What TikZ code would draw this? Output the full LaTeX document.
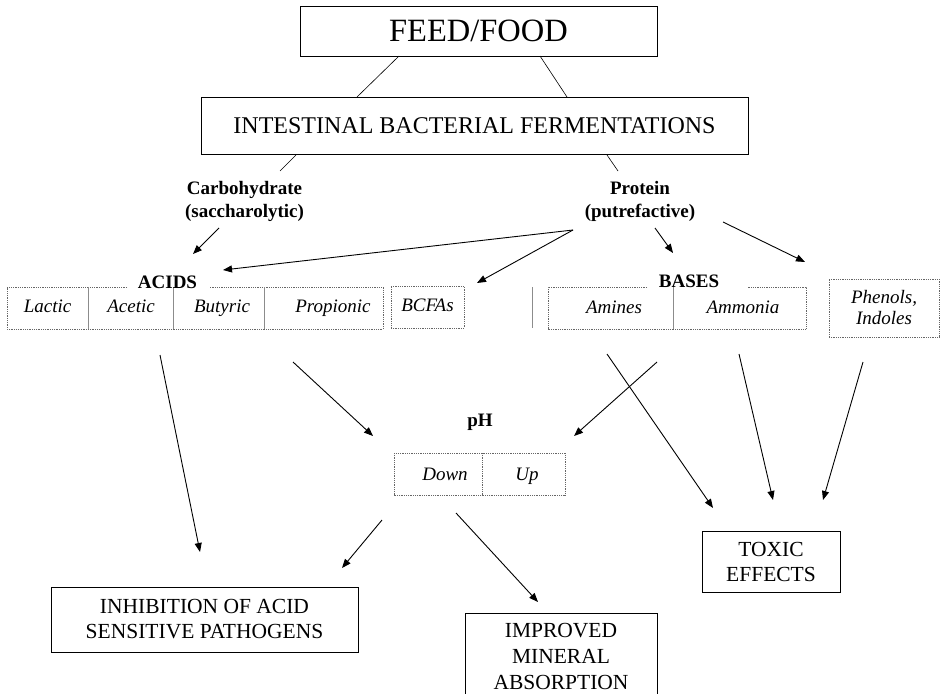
\documentclass[tikz,border=0pt]{standalone}
\usepackage{fontspec}
\setmainfont{Liberation Serif}
\usepackage{tikz}
\usetikzlibrary{arrows.meta}
\usetikzlibrary{positioning}
\tikzset{frame/.style = {draw, line width = 0.9pt, inner sep = 0}}
\tikzset{dotframe/.style = {draw = black!60, line width = 0.8pt, densely dotted}}
\tikzset{divider/.style = {draw = black!45, line width = 0.8pt}}
\tikzset{conn/.style = {line width = 0.9pt, -{Triangle[length = 9pt, width = 7pt]}}}
\tikzset{titlefont/.style = {font = \fontsize{32.5}{36}\selectfont}}
\tikzset{headfont/.style = {font = \fontsize{24}{28}\selectfont}}
\tikzset{boxfont/.style = {font = \fontsize{21.5}{25}\selectfont, align = center}}
\tikzset{labelfont/.style = {font = \fontsize{19}{23}\bfseries\selectfont, align = center}}
\tikzset{cellpara/.style = {font = \fontsize{19}{21}\itshape\selectfont, align = center}}
\tikzset{cellfont/.style = {cellpara, text height = 13, text depth = 4}}
\definecolor{paper}{rgb}{1, 1, 1}

\begin{document}
\begin{tikzpicture}[x = 1pt, y = -1pt]
      \useasboundingbox [fill = paper] (0, 0) rectangle (941, 693);

      % top of the tree
      \node [frame, titlefont, minimum width = 357, minimum height = 50] (feed) at (478.5, 31) {FEED/FOOD};
      \node [frame, headfont, minimum width = 547, minimum height = 57] (ferm) at (474.5, 125.5) {INTESTINAL BACTERIAL FERMENTATIONS};
      \draw [line width = 0.6pt] (399, 56) -- (357, 97);
      \draw [line width = 0.6pt] (540, 56) -- (567, 97);
      \draw [line width = 0.6pt] (296, 155) -- (280, 171);
      \draw [line width = 0.6pt] (607, 155) -- (618, 171);

      \node [labelfont] (carb) at (244.5, 201.5) {Carbohydrate\\(saccharolytic)};
      \node [labelfont] (prot) at (640, 201.5) {Protein\\(putrefactive)};

      % acids row
      \draw [dotframe] (127, 287) -- (7, 287) -- (7, 329) -- (383, 329) -- (383, 287) -- (210, 287);
      \foreach \x in {88, 173, 264}
        \draw [divider] (\x, 287) -- (\x, 329);
      \node [labelfont] (acids) at (167.5, 282) {ACIDS};
      \node [cellfont] (lactic) at (47.5, 308) {Lactic};
      \node [cellfont] (acetic) at (131, 308) {Acetic};
      \node [cellfont] (butyric) at (222, 308) {Butyric};
      \node [cellfont] (propionic) at (333, 308) {Propionic};
      \node [dotframe, cellfont, minimum width = 73, minimum height = 42] (bcfa) at (427.5, 307) {BCFAs};
      \draw [divider] (532, 287) -- (532, 328);

      % bases row
      \draw [dotframe] (647, 287) -- (548, 287) -- (548, 329) -- (806, 329) -- (806, 287) -- (748, 287);
      \draw [divider] (673, 287) -- (673, 329);
      \node [labelfont] (bases) at (689, 281) {BASES};
      \node [cellfont] (amines) at (614, 309) {Amines};
      \node [cellfont] (ammonia) at (743, 309) {Ammonia};
      \node [dotframe, cellpara, minimum width = 110, minimum height = 58] (phenols) at (884, 308) {Phenols,\\Indoles};

      % pH
      \node [labelfont] (ph) at (480, 422) {pH};
      \draw [dotframe] (394, 453) rectangle (565, 495);
      \draw [dotframe] (482, 453) -- (482, 495);
      \node [cellfont] (down) at (445, 476) {Down};
      \node [cellfont] (up) at (527, 476) {Up};

      % outcomes
      \node [frame, boxfont, minimum width = 307, minimum height = 65] (inhib) at (204.5, 619.5) {INHIBITION OF ACID\\SENSITIVE PATHOGENS};
      \node [frame, boxfont, minimum width = 138, minimum height = 61] (toxic) at (771, 561.5) {TOXIC\\EFFECTS};
      \draw [frame] (465, 720) -- (465, 613) -- (657, 613) -- (657, 720);
      \node [boxfont, font = \fontsize{21.5}{26}\selectfont] (mineral) at (561, 656) {IMPROVED\\MINERAL\\ABSORPTION};

      % arrow ends
      \coordinate (carbS) at (219, 228);  \coordinate (carbE) at (193, 254);
      \coordinate (protS) at (573, 230);
      \coordinate (acidE) at (223, 270);  \coordinate (bcfaE) at (477, 283);
      \coordinate (baseS) at (655, 228);  \coordinate (baseE) at (673, 253);
      \coordinate (phenS) at (723, 222);  \coordinate (phenE) at (805, 262);
      \coordinate (lacS) at (160, 355);   \coordinate (lacE) at (200, 552);
      \coordinate (acS) at (293, 362);    \coordinate (acE) at (373, 436);
      \coordinate (amS) at (607, 354);    \coordinate (amE) at (713, 508);
      \coordinate (baS) at (657, 362);    \coordinate (baE) at (574, 436);
      \coordinate (nhS) at (739, 354);    \coordinate (nhE) at (773, 500);
      \coordinate (phS) at (863, 362);    \coordinate (phE) at (823, 500);
      \coordinate (dnS) at (382, 520);    \coordinate (dnE) at (342, 568);
      \coordinate (mnS) at (456, 513);    \coordinate (mnE) at (538, 602);

      \draw [conn] (carbS) -- (carbE);
      \draw [conn] (protS) -- (acidE);
      \draw [conn] (protS) -- (bcfaE);
      \draw [conn] (baseS) -- (baseE);
      \draw [conn] (phenS) -- (phenE);
      \draw [conn] (lacS) -- (lacE);
      \draw [conn] (acS) -- (acE);
      \draw [conn] (amS) -- (amE);
      \draw [conn] (baS) -- (baE);
      \draw [conn] (nhS) -- (nhE);
      \draw [conn] (phS) -- (phE);
      \draw [conn] (dnS) -- (dnE);
      \draw [conn] (mnS) -- (mnE);
    \end{tikzpicture}
\end{document}
